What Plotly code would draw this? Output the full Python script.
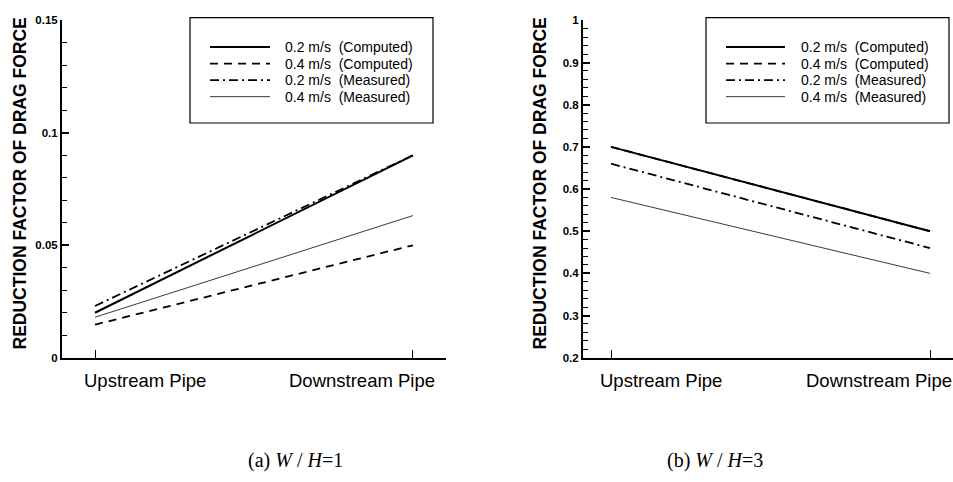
import plotly.graph_objects as go

# ---- data ----
categories = ["Upstream Pipe", "Downstream Pipe"]
series_names = ["0.2 m/s  (Computed)", "0.4 m/s  (Computed)",
                "0.2 m/s  (Measured)", "0.4 m/s  (Measured)"]

# (a) W/H = 1
a_comp_02 = [0.020, 0.090]
a_comp_04 = [0.0147, 0.050]
a_meas_02 = [0.023, 0.090]
a_meas_04 = [0.018, 0.0632]

# (b) W/H = 3
b_comp_02 = [0.700, 0.500]
b_comp_04 = [0.700, 0.500]
b_meas_02 = [0.660, 0.460]
b_meas_04 = [0.580, 0.400]

xpos = [0, 1]

styles = [
    dict(color="black", width=2.0, dash="solid"),
    dict(color="black", width=1.8, dash="8px,6px"),
    dict(color="black", width=1.8, dash="9px,4px,2px,4px"),
    dict(color="#3a3a3a", width=1.0, dash="solid"),
]

fig = go.Figure()
for vals, name, st in zip([a_comp_02, a_comp_04, a_meas_02, a_meas_04], series_names, styles):
    fig.add_trace(go.Scatter(x=xpos, y=vals, mode="lines", name=name, line=st,
                             xaxis="x", yaxis="y", showlegend=False))
for vals, name, st in zip([b_comp_02, b_comp_04, b_meas_02, b_meas_04], series_names, styles):
    fig.add_trace(go.Scatter(x=xpos, y=vals, mode="lines", name=name, line=st,
                             xaxis="x2", yaxis="y2", showlegend=False))

W, H = 953, 482
def px(xp):
    return xp / W
def py(yp):
    return 1 - yp / H

ydom = [py(360.7), py(14.7)]
tickfont = dict(family="Liberation Sans, Arial", size=11.5, color="black", weight="bold")

common_x = dict(showgrid=False, zeroline=False, showline=True, linecolor="black", linewidth=2,
                ticks="inside", ticklen=8, tickwidth=1.3, tickcolor="black",
                tickvals=xpos, showticklabels=False, fixedrange=True)
common_y = dict(showgrid=False, zeroline=False, showline=True, linecolor="black", linewidth=2,
                ticks="inside", ticklen=7, tickwidth=1.5, tickcolor="black",
                tickfont=tickfont, fixedrange=True)

fig.update_layout(
    width=W, height=H, margin=dict(l=0, r=0, t=0, b=0),
    paper_bgcolor="white", plot_bgcolor="white", showlegend=False,
    xaxis=dict(domain=[px(62), px(446)], range=[-0.1038, 1.1038], anchor="y", **common_x),
    yaxis=dict(domain=ydom, range=[0, 0.15], dtick=0.05, anchor="x",
               minor=dict(dtick=0.01, ticks="inside", ticklen=5, tickwidth=1.2, tickcolor="black",
                          showgrid=False), **common_y),
    xaxis2=dict(domain=[px(583), 1.0], range=[-0.0878, 1.072], anchor="y2", **common_x),
    yaxis2=dict(domain=ydom, range=[0.2, 1.0], dtick=0.1, anchor="x2",
                minor=dict(dtick=0.02, ticks="inside", ticklen=5, tickwidth=1.2, tickcolor="black",
                           showgrid=False), **common_y),
)

# legend boxes with sample lines and labels
leg_font = dict(family="Liberation Sans, Arial", size=14, color="black")
row_y = [42, 59, 76, 93]
for (bx0, bx1), (sx0, sx1, tx) in zip([(190, 433), (706, 949)],
                                      [(210, 270, 283), (726, 785, 799)]):
    fig.add_shape(type="rect", xref="paper", yref="paper", x0=px(bx0), x1=px(bx1),
                  y0=py(120), y1=py(12), line=dict(color="black", width=1.2))
    for ry, name, st in zip(row_y, series_names, styles):
        fig.add_shape(type="line", xref="paper", yref="paper", x0=px(sx0), x1=px(sx1),
                      y0=py(ry), y1=py(ry), line=st)
        fig.add_annotation(x=px(tx), y=py(ry), xref="paper", yref="paper", text=name,
                           showarrow=False, xanchor="left", yanchor="middle", font=leg_font)

# category labels (offset as in the reference)
lab_font = dict(family="Liberation Sans, Arial", size=18.5, color="black")
for xa in ["x", "x2"]:
    fig.add_annotation(x=xpos[0], y=py(371), xref=xa, yref="paper",
                       text=categories[0], showarrow=False, xanchor="left", yanchor="top",
                       xshift=-13, font=lab_font)
    fig.add_annotation(x=xpos[1], y=py(371), xref=xa, yref="paper",
                       text=categories[1], showarrow=False, xanchor="right", yanchor="top",
                       xshift=24, font=lab_font)

# y titles
ytitle_font = dict(family="Liberation Sans, Arial", size=17.5, color="black", weight="bold")
for xc in [20, 540]:
    fig.add_annotation(x=px(xc), y=py(182), xref="paper", yref="paper",
                       text="REDUCTION FACTOR OF DRAG FORCE", textangle=-90,
                       xanchor="center", yanchor="middle",
                       showarrow=False, font=ytitle_font)

# captions
cap_font = dict(family="Liberation Serif, Times New Roman, serif", size=20, color="black")
fig.add_annotation(x=px(295), y=py(466), xref="paper", yref="paper", showarrow=False,
                   xanchor="center", yanchor="middle",
                   text="(a) <i>W</i> / <i>H</i>=1", font=cap_font)
fig.add_annotation(x=px(715), y=py(466), xref="paper", yref="paper", showarrow=False,
                   xanchor="center", yanchor="middle",
                   text="(b) <i>W</i> / <i>H</i>=3", font=cap_font)

fig.write_html("out.html")
